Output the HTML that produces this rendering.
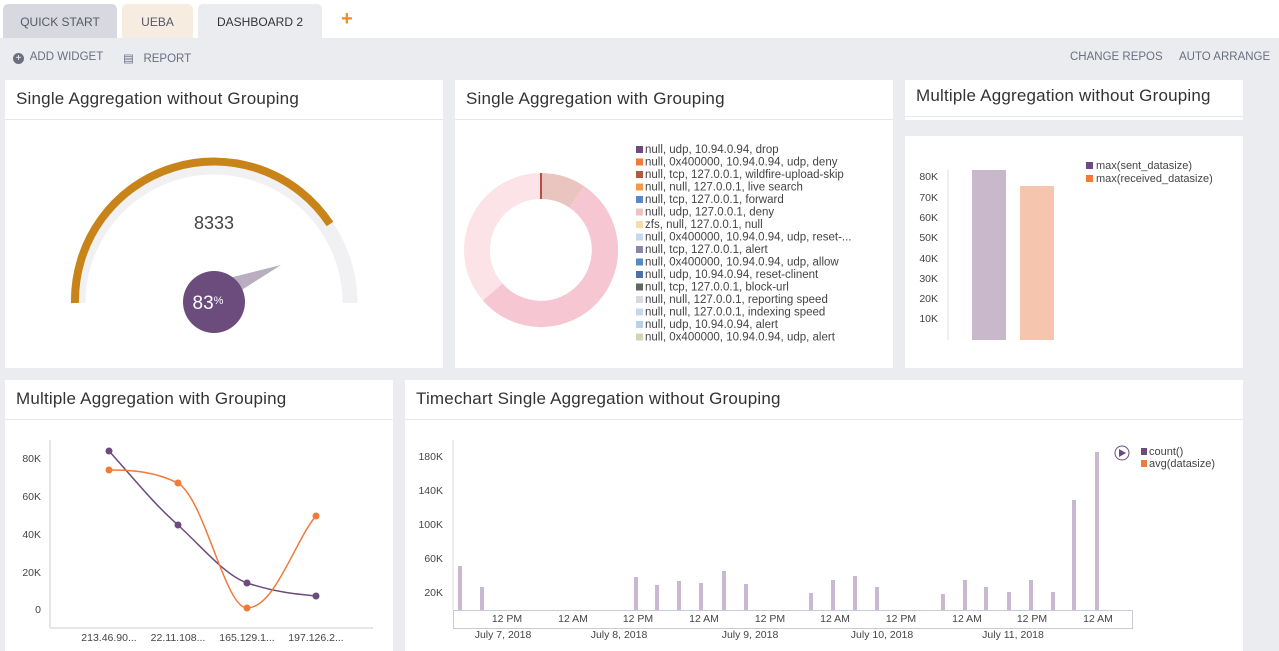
<!DOCTYPE html>
<html><head><meta charset="utf-8"><style>
body{margin:0;width:1279px;height:651px;overflow:hidden;background:#ebecf0;font-family:"Liberation Sans",sans-serif;position:relative}
.a{position:absolute}
.tab{position:absolute;top:4px;height:34px;line-height:36px;text-align:center;font-size:12px;color:#55586a;border-radius:5px 5px 0 0}
.panel{position:absolute;background:#fff}
.hd{position:absolute;left:0;right:0;top:0;height:39px;border-bottom:1px solid #e8e8ec;font-size:17px;color:#333;line-height:38px;padding-left:11px;letter-spacing:0.2px}
.tb{font-size:11.5px;color:#6a6e80}
svg text{font-family:"Liberation Sans",sans-serif}
</style></head><body>
<div class="a" style="left:0;top:0;width:1279px;height:38px;background:#fff"></div>
<div class="tab" style="left:3px;width:114px;background:#d8d9e0">QUICK START</div>
<div class="tab" style="left:122px;width:71px;background:#f6ece0">UEBA</div>
<div class="tab" style="left:198px;width:124px;background:#ebecf0;color:#333">DASHBOARD 2</div>
<div class="a" style="left:341px;top:8px;font-size:20px;color:#f08a2a;font-weight:bold">+</div>
<div class="a tb" style="left:13px;top:51px"><span style="display:inline-block;width:11px;height:11px;border-radius:50%;background:#6a6e80;color:#fff;font-size:10px;line-height:11px;text-align:center;vertical-align:-1px">+</span>&nbsp; ADD WIDGET</div>
<div class="a tb" style="left:123px;top:51px">&#9636;&nbsp;&nbsp; REPORT</div>
<div class="a tb" style="left:1070px;top:51px">CHANGE REPOS</div>
<div class="a tb" style="left:1179px;top:51px">AUTO ARRANGE</div>

<div class="panel" style="left:5px;top:80px;width:438px;height:288px"><div class="hd">Single Aggregation without Grouping</div>
<svg class="a" style="left:0;top:0" width="438" height="288">
<path d="M73,223 A136,136 0 0 1 345,223" fill="none" stroke="#f1f1f3" stroke-width="15"/>
<path d="M70,223 A139,139 0 0 1 325,144" fill="none" stroke="#c98419" stroke-width="8"/>
<text x="209" y="149" font-size="18" fill="#444" text-anchor="middle">8333</text>
<polygon points="216,200 276,185 224,218" fill="#b8aebf"/>
<circle cx="209" cy="222" r="31" fill="#6b4c7c"/>
<text x="203" y="229" font-size="19" fill="#fff" text-anchor="middle">83<tspan font-size="11" dy="-5">%</tspan></text>
</svg></div>

<div class="panel" style="left:455px;top:80px;width:438px;height:288px"><div class="hd">Single Aggregation with Grouping</div>
<svg class="a" style="left:0;top:0" width="438" height="288">
<g transform="translate(86,170)">
<path d="M0,-77 A77,77 0 0 1 42.8,-64 L28.4,-42.4 A51,51 0 0 0 0,-51Z" fill="#eac4be"/>
<path d="M42.8,-64 A77,77 0 1 1 -58.1,50.5 L-38.5,33.5 A51,51 0 1 0 28.4,-42.4Z" fill="#f6c6d2"/>
<path d="M-58.1,50.5 A77,77 0 0 1 0,-77 L0,-51 A51,51 0 0 0 -38.5,33.5Z" fill="#fbe3e8"/>
<rect x="-1" y="-77" width="2" height="26" fill="#b05040"/>
</g>
<g font-size="11.5" fill="#444">
<rect x="181" y="66" width="7" height="7" fill="#6b4c7c"/><text x="190" y="73">null, udp, 10.94.0.94, drop</text>
<rect x="181" y="78.5" width="7" height="7" fill="#f07a3a"/><text x="190" y="85.5">null, 0x400000, 10.94.0.94, udp, deny</text>
<rect x="181" y="91" width="7" height="7" fill="#b05a40"/><text x="190" y="98">null, tcp, 127.0.0.1, wildfire-upload-skip</text>
<rect x="181" y="103.5" width="7" height="7" fill="#f09a50"/><text x="190" y="110.5">null, null, 127.0.0.1, live search</text>
<rect x="181" y="116" width="7" height="7" fill="#5a88c0"/><text x="190" y="123">null, tcp, 127.0.0.1, forward</text>
<rect x="181" y="128.5" width="7" height="7" fill="#eac4be"/><text x="190" y="135.5">null, udp, 127.0.0.1, deny</text>
<rect x="181" y="141" width="7" height="7" fill="#f8dcb0"/><text x="190" y="148">zfs, null, 127.0.0.1, null</text>
<rect x="181" y="153.5" width="7" height="7" fill="#c8d8ec"/><text x="190" y="160.5">null, 0x400000, 10.94.0.94, udp, reset-...</text>
<rect x="181" y="166" width="7" height="7" fill="#8a86a8"/><text x="190" y="173">null, tcp, 127.0.0.1, alert</text>
<rect x="181" y="178.5" width="7" height="7" fill="#5a88c0"/><text x="190" y="185.5">null, 0x400000, 10.94.0.94, udp, allow</text>
<rect x="181" y="191" width="7" height="7" fill="#4a70b0"/><text x="190" y="198">null, udp, 10.94.0.94, reset-clinent</text>
<rect x="181" y="203.5" width="7" height="7" fill="#606860"/><text x="190" y="210.5">null, tcp, 127.0.0.1, block-url</text>
<rect x="181" y="216" width="7" height="7" fill="#d8d8e0"/><text x="190" y="223">null, null, 127.0.0.1, reporting speed</text>
<rect x="181" y="228.5" width="7" height="7" fill="#c8d8ec"/><text x="190" y="235.5">null, null, 127.0.0.1, indexing speed</text>
<rect x="181" y="241" width="7" height="7" fill="#b8d0e8"/><text x="190" y="248">null, udp, 10.94.0.94, alert</text>
<rect x="181" y="253.5" width="7" height="7" fill="#d0d4b8"/><text x="190" y="260.5">null, 0x400000, 10.94.0.94, udp, alert</text>
</g></svg></div>

<div class="panel" style="left:905px;top:80px;width:338px;height:288px"><div class="hd" style="height:36px;line-height:32px">Multiple Aggregation without Grouping</div>
<div class="a" style="left:0;right:0;top:40px;height:16px;background:#ebecf0"></div>
<svg class="a" style="left:0;top:0" width="338" height="288">
<g font-size="10.5" fill="#444" text-anchor="end">
<text x="33" y="100">80K</text><text x="33" y="121">70K</text><text x="33" y="141">60K</text><text x="33" y="161">50K</text><text x="33" y="182">40K</text><text x="33" y="202">30K</text><text x="33" y="222">20K</text><text x="33" y="242">10K</text></g>
<line x1="43" y1="90" x2="43" y2="260" stroke="#ddd"/>
<rect x="67" y="90" width="34" height="170" fill="#c9b8cc"/>
<rect x="115" y="106" width="34" height="154" fill="#f5c5ad"/>
<rect x="181" y="82" width="7" height="7" fill="#6b4c7c"/><text x="191" y="89" font-size="11" fill="#444">max(sent_datasize)</text>
<rect x="181" y="95" width="7" height="7" fill="#f07a3a"/><text x="191" y="102" font-size="11" fill="#444">max(received_datasize)</text>
</svg></div>

<div class="panel" style="left:5px;top:380px;width:388px;height:271px"><div class="hd">Multiple Aggregation with Grouping</div>
<svg class="a" style="left:0;top:0" width="388" height="271">
<g font-size="10.5" fill="#444" text-anchor="end">
<text x="36" y="82">80K</text><text x="36" y="120">60K</text><text x="36" y="158">40K</text><text x="36" y="196">20K</text><text x="36" y="233">0</text></g>
<line x1="45" y1="60" x2="45" y2="248" stroke="#ccc"/><line x1="45" y1="248" x2="368" y2="248" stroke="#ccc"/>
<path d="M104,71 C130,100 150,125 173,145 C200,170 220,195 242,203 C270,212 290,214 311,216" fill="none" stroke="#6b4c7c" stroke-width="1.5"/>
<path d="M104,90 C130,90 150,92 173,103 C200,120 220,228 242,228 C270,228 290,160 311,136" fill="none" stroke="#f07a3a" stroke-width="1.5"/>
<g fill="#6b4c7c"><circle cx="104" cy="71" r="3.5"/><circle cx="173" cy="145" r="3.5"/><circle cx="242" cy="203" r="3.5"/><circle cx="311" cy="216" r="3.5"/></g>
<g fill="#f07a3a"><circle cx="104" cy="90" r="3.5"/><circle cx="173" cy="103" r="3.5"/><circle cx="242" cy="228" r="3.5"/><circle cx="311" cy="136" r="3.5"/></g>
<g font-size="10.5" fill="#444" text-anchor="middle"><text x="104" y="261">213.46.90...</text><text x="173" y="261">22.11.108...</text><text x="242" y="261">165.129.1...</text><text x="311" y="261">197.126.2...</text></g>
</svg></div>

<div class="panel" style="left:405px;top:380px;width:838px;height:271px"><div class="hd">Timechart Single Aggregation without Grouping</div>
<svg class="a" style="left:-405px;top:-380px" width="1279" height="651">
<g font-size="10.5" fill="#444" text-anchor="end">
<text x="443" y="460">180K</text><text x="443" y="494">140K</text><text x="443" y="528">100K</text><text x="443" y="562">60K</text><text x="443" y="596">20K</text></g>
<line x1="453" y1="440" x2="453" y2="610" stroke="#ddd"/>
<g fill="#c9b8d2">
<rect x="458" y="566" width="4" height="44"/><rect x="480" y="587" width="4" height="23"/><rect x="634" y="577" width="4" height="33"/><rect x="655" y="585" width="4" height="25"/><rect x="677" y="581" width="4" height="29"/><rect x="699" y="583" width="4" height="27"/><rect x="722" y="571" width="4" height="39"/><rect x="744" y="584" width="4" height="26"/><rect x="809" y="593" width="4" height="17"/><rect x="831" y="580" width="4" height="30"/><rect x="853" y="576" width="4" height="34"/><rect x="875" y="587" width="4" height="23"/><rect x="941" y="594" width="4" height="16"/><rect x="963" y="580" width="4" height="30"/><rect x="984" y="587" width="4" height="23"/><rect x="1007" y="592" width="4" height="18"/><rect x="1029" y="580" width="4" height="30"/><rect x="1051" y="592" width="4" height="18"/><rect x="1072" y="500" width="4" height="110"/><rect x="1095" y="452" width="4" height="158"/></g>
<rect x="453.5" y="610.5" width="679" height="18" fill="none" stroke="#c8cad8"/>
<g font-size="10.5" fill="#444" text-anchor="middle">
<text x="507" y="622">12 PM</text><text x="573" y="622">12 AM</text><text x="638" y="622">12 PM</text><text x="704" y="622">12 AM</text><text x="770" y="622">12 PM</text><text x="835" y="622">12 AM</text><text x="901" y="622">12 PM</text><text x="967" y="622">12 AM</text><text x="1032" y="622">12 PM</text><text x="1098" y="622">12 AM</text>
<text x="503" y="638">July 7, 2018</text><text x="619" y="638">July 8, 2018</text><text x="750" y="638">July 9, 2018</text><text x="882" y="638">July 10, 2018</text><text x="1013" y="638">July 11, 2018</text></g>
<circle cx="1122" cy="453" r="7" fill="none" stroke="#6b4c7c"/><polygon points="1119,449 1119,457 1126,453" fill="#6b4c7c"/>
<rect x="1141" y="448" width="6" height="7" fill="#6b4c7c"/><text x="1149" y="455" font-size="11" fill="#444">count()</text>
<rect x="1141" y="460" width="6" height="7" fill="#f07a3a"/><text x="1149" y="467" font-size="11" fill="#444">avg(datasize)</text>
</svg></div>
</body></html>
